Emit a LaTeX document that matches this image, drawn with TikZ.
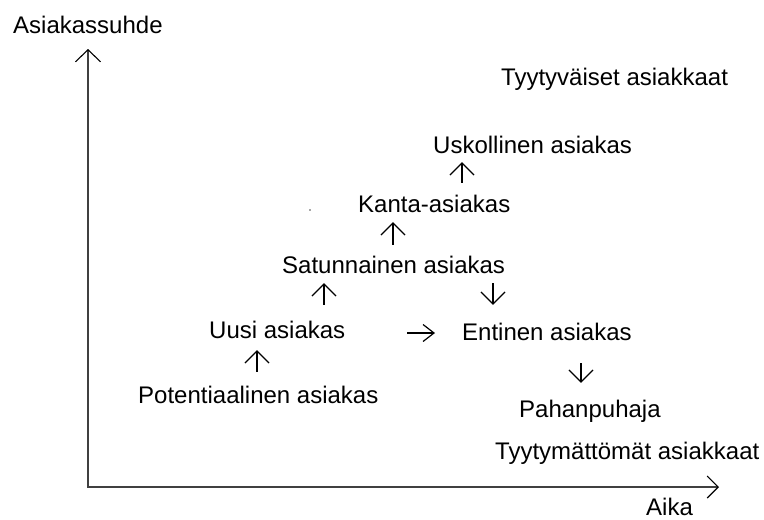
\documentclass[tikz,border=0pt]{standalone}
\usepackage{fontspec}
\setmainfont{Liberation Sans}
\usetikzlibrary{arrows.meta}
\begin{document}
\begin{tikzpicture}[x=1pt,y=-1pt,
  lbl/.style={anchor=base west, inner sep=0pt, text height=17pt, text depth=0pt,
    font=\fontsize{24}{28}\selectfont},
  flow/.style={line width=2.8pt, black,
    -{Straight Barb[length=12pt,width=24pt,line width=1.2pt 0 1]}},
  hflow/.style={line width=2.2pt, black,
    -{Straight Barb[length=11pt,width=17pt,line width=1.2pt 0 1]}},
  axis/.style={line width=2pt, black!75,
    {Straight Barb[length=12pt,width=25pt,line width=1.1pt 0 1,black]}-{Straight Barb[length=11pt,width=22pt,line width=1.1pt 0 1,black]}}]
\useasboundingbox (0,0) rectangle (764,520);

% axes
\coordinate (ytip) at (88,49);
\coordinate (origin) at (88,487);
\coordinate (xtip) at (719,487);
\draw[axis] (ytip) -- (origin) -- (xtip);

% labels
\node[lbl] (ylab) at (13,33) {Asiakassuhde};
\node[lbl] (xlab) at (646,515) {Aika};
\node[lbl] (tyyt) at (501,85) {Tyytyväiset asiakkaat};
\node[lbl] (tymat) at (495,459) {Tyytymättömät asiakkaat};

\node[lbl] (usk) at (433,153) {Uskollinen asiakas};
\node[lbl] (kanta) at (358,212) {Kanta-asiakas};
\node[lbl] (sat) at (282,273) {Satunnainen asiakas};
\node[lbl] (uusi) at (209,338) {Uusi asiakas};
\node[lbl] (ent) at (462,340) {Entinen asiakas};
\node[lbl] (pot) at (138,403) {Potentiaalinen asiakas};
\node[lbl] (pah) at (519,417) {Pahanpuhaja};

% connectors
\draw[flow, shorten <=14pt, shorten >=12pt] (257,0 |- pot.north) -- (257,0 |- uusi.south);
\draw[flow, shorten <=16pt, shorten >=10pt] (324,0 |- uusi.north) -- (324,0 |- sat.south);
\draw[flow, shorten <=11pt, shorten >=10pt] (393,0 |- sat.north) -- (393,0 |- kanta.south);
\draw[flow, shorten <=12pt, shorten >=9pt] (462,0 |- kanta.north) -- (462,0 |- usk.south);
\draw[flow, shorten <=10pt, shorten >=18pt] (493,0 |- sat.south) -- (493,0 |- ent.north);
\draw[flow, shorten <=23pt, shorten >=17pt] (581,0 |- ent.south) -- (581,0 |- pah.north);
\draw[hflow, shorten <=62pt, shorten >=27pt] (uusi.east |- 0,333) -- (ent.west |- 0,333);

% stray dot
\fill[black!70] (310,210) circle (0.9pt);
\end{tikzpicture}
\end{document}
